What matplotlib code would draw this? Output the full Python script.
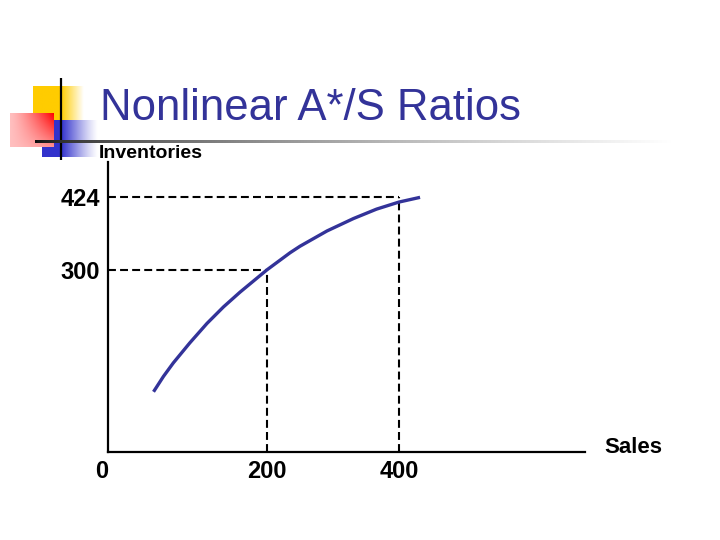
import numpy as np
import matplotlib
matplotlib.use("Agg")
import matplotlib.pyplot as plt

# ---- data ----
sales = [28, 43, 58, 83, 109, 134, 159, 200, 235, 250, 291, 331, 366, 400, 432]
inventories = [93, 119, 142, 176, 209, 237, 262, 300, 329, 340, 366, 387, 403, 415, 423]
x_tick_values = [0, 200, 400]
x_tick_labels = ["0", "200", "400"]
y_tick_values = [300, 424]
y_tick_labels = ["300", "424"]
ref_points_x = [200, 400]
ref_points_y = [300, 424]

title = "Nonlinear A*/S Ratios"
ylabel = "Inventories"
xlabel = "Sales"

plt.rcParams['font.family'] = ['Liberation Sans', 'DejaVu Sans']
NAVY = "#333399"

W, H = 720, 540
fig = plt.figure(figsize=(7.2, 5.4), dpi=100)

# ---- background decoration (pixel coordinates) ----
bg = fig.add_axes([0, 0, 1, 1])
bg.set_xlim(0, W)
bg.set_ylim(H, 0)
bg.axis('off')

def grad_img(rgb, alpha2d):
    img = np.ones(alpha2d.shape + (3,))
    for c in range(3):
        img[..., c] = 1 - alpha2d * (1 - rgb[c])
    return img

# yellow square: solid then fading right
xs = np.linspace(0, 1, 100)
a = np.clip(np.where(xs < 0.55, 1.0, 1 - (xs - 0.55) / 0.45), 0, 1)
bg.imshow(grad_img((1.0, 0.8, 0.0), np.tile(a, (10, 1))),
          extent=(33, 84, 120, 86), aspect='auto', zorder=1)
# blue rect: solid then fading right
a = np.clip(np.where(xs < 0.35, 1.0, 1 - (xs - 0.35) / 0.65), 0, 1) ** 1.2
bg.imshow(grad_img((0.2, 0.2, 0.8), np.tile(a, (10, 1))),
          extent=(42, 98, 157, 120), aspect='auto', zorder=2)
# red rect: strong top-right, fading to left/bottom
gx, gy = np.meshgrid(np.linspace(0, 1, 80), np.linspace(0, 1, 60))
a = np.clip(0.25 + 0.75 * gx ** 1.3 * (1 - 0.75 * gy), 0, 1)
bg.imshow(grad_img((1.0, 0.0, 0.0), a),
          extent=(10, 54, 147, 113), aspect='auto', zorder=3)
# vertical black line
bg.plot([61, 61], [78, 160], color='black', lw=1.6, zorder=4,
        solid_capstyle='butt')
# horizontal gradient rule
t = np.linspace(0, 1, 400)
shade = np.clip(0.05 + 0.95 * t ** 0.6, 0, 1)
rule = np.stack([shade, shade, shade], axis=-1)[None, :, :].repeat(3, axis=0)
bg.imshow(rule, extent=(35, 672, 143, 140), aspect='auto', zorder=4)
bg.set_xlim(0, W)
bg.set_ylim(H, 0)

# title
bg.text(100, 120, title, color=NAVY, fontsize=31.5, va='baseline',
        ha='left', zorder=5)

# ---- main chart axes ----
left_px, right_px, bottom_px, top_px = 108, 585, 451.7, 162
ax = fig.add_axes([left_px / W, (H - bottom_px) / H,
                   (right_px - left_px) / W, (bottom_px - top_px) / H])
ax.patch.set_alpha(0)
xmin, xmax = -41, 682
ymin, ymax = -8.7, 483
ax.set_xlim(xmin, xmax)
ax.set_ylim(ymin, ymax)

for s in ['top', 'right']:
    ax.spines[s].set_visible(False)
for s in ['left', 'bottom']:
    ax.spines[s].set_linewidth(1.6)
    ax.spines[s].set_color('black')

# dashed reference lines
dash = (0, (3.8, 2.0))
for px, py in zip(ref_points_x, ref_points_y):
    ax.plot([xmin, px], [py, py], color='black', lw=1.5, linestyle=dash,
            clip_on=False)
    ax.plot([px, px], [ymin, py], color='black', lw=1.5, linestyle=dash,
            clip_on=False)

# curve
ax.plot(sales, inventories, color=NAVY, lw=2.4, solid_capstyle='butt',
        solid_joinstyle='round')

# y ticks
ax.set_yticks(y_tick_values)
ax.set_yticklabels(y_tick_labels, fontsize=17, fontweight='bold')
ax.tick_params(axis='y', length=0, pad=6)
# x ticks (drawn as text; the origin label sits at the axis corner)
ax.set_xticks([])
for v, lab in zip(x_tick_values, x_tick_labels):
    xpos = v if v != 0 else xmin - 10
    ax.text(xpos, -0.07, lab, transform=ax.get_xaxis_transform(),
            ha='center', va='center', fontsize=17, fontweight='bold')

# axis titles
ax.text(-0.02, 1.03, ylabel, transform=ax.transAxes, ha='left',
        va='center', fontsize=14, fontweight='bold')
ax.text(1.04, 0.015, xlabel, transform=ax.transAxes, ha='left',
        va='center', fontsize=16, fontweight='bold')

fig.savefig("out.png", dpi=100)
